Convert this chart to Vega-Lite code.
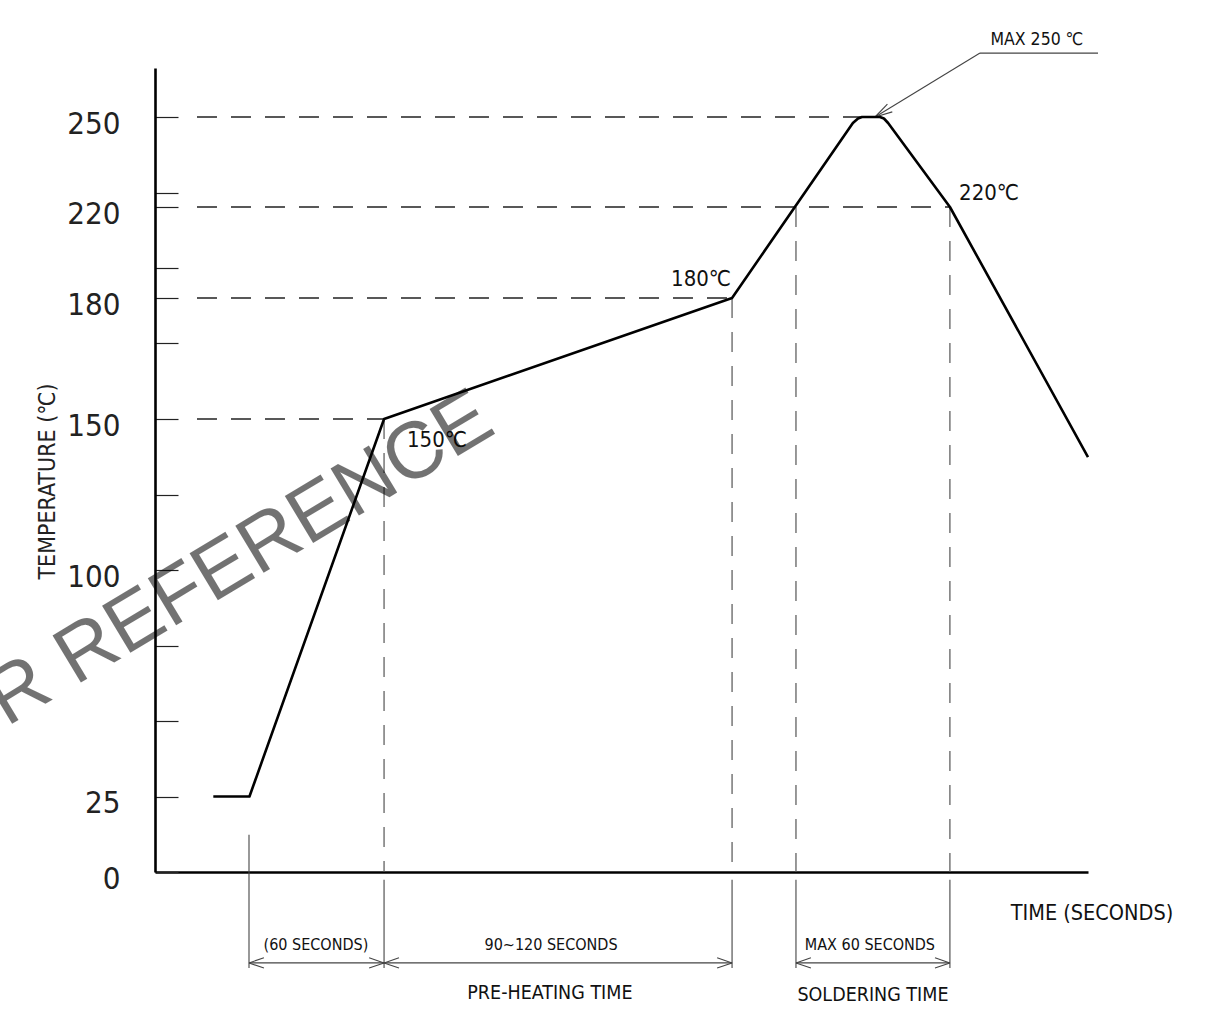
{
  "$schema": "https://vega.github.io/schema/vega-lite/v6.json",
  "width": 933,
  "height": 804,
  "autosize": "none",
  "padding": {"left": 155, "top": 68, "right": 119, "bottom": 150},
  "background": "white",
  "config": {"view": {"stroke": null}, "font": "DejaVu Sans Condensed, DejaVu Sans, sans-serif"},
  "encoding": {
    "x": {
      "field": "x",
      "type": "quantitative",
      "scale": {"domain": [0, 400], "nice": false, "zero": false},
      "axis": {"title": null, "ticks": false, "labels": false, "grid": false, "domainColor": "#000", "domainWidth": 2.6}
    },
    "y": {
      "field": "y",
      "type": "quantitative",
      "scale": {"domain": [0, 150, 180, 220, 250, 266.33], "range": [804, 351, 230, 139, 49, 0], "nice": false, "zero": false},
      "axis": {
        "title": "TEMPERATURE (℃)",
        "values": [0, 25, 50, 75, 100, 125, 150, 168.8, 180, 193.2, 220, 224.7, 250],
        "labelExpr": "indexof([0,25,100,150,180,220,250], datum.value) >= 0 ? datum.label : ''",
        "grid": false,
        "domainColor": "#000",
        "domainWidth": 2.6,
        "tickColor": "#222",
        "tickWidth": 1.2,
        "tickSize": -23,
        "labelPadding": 58,
        "labelFont": "DejaVu Sans Condensed, DejaVu Sans, sans-serif",
        "labelFontSize": 31,
        "labelColor": "#222",
        "labelBaseline": "middle",
        "labelOffset": 7,
        "labelOverlap": false,
        "labelFlush": false,
        "titleFont": "DejaVu Sans Condensed, DejaVu Sans, sans-serif",
        "titleFontSize": 23,
        "titleFontWeight": "normal",
        "titleColor": "#222",
        "titleX": -108,
        "titleY": 413,
        "titleAngle": -90,
        "titleAlign": "center",
        "titleBaseline": "middle"
      }
    }
  },
  "layer": [
    {
      "data": {"values": [
        {"x": 18, "y": 250, "x2": 303.1, "y2": 250},
        {"x": 18, "y": 220, "x2": 340.8, "y2": 220},
        {"x": 18, "y": 180, "x2": 247.4, "y2": 180},
        {"x": 18, "y": 150, "x2": 98.2, "y2": 150}
      ]},
      "mark": {"type": "rule", "stroke": "#222", "strokeWidth": 1.3, "strokeDash": [20, 14]},
      "encoding": {"x2": {"field": "x2"}, "y2": {"field": "y2"}}
    },
    {
      "data": {"values": [
        {"x": 98.2, "y": 150, "x2": 98.2, "y2": 0},
        {"x": 247.4, "y": 180, "x2": 247.4, "y2": 0},
        {"x": 274.8, "y": 220, "x2": 274.8, "y2": 0},
        {"x": 340.8, "y": 220, "x2": 340.8, "y2": 0}
      ]},
      "mark": {"type": "rule", "stroke": "#555", "strokeWidth": 1.2, "strokeDash": [20, 14]},
      "encoding": {"x2": {"field": "x2"}, "y2": {"field": "y2"}}
    },
    {
      "data": {"values": [
        {"x": 40.3, "y": 12.3, "x2": 40.3, "y2": -31.8},
        {"x": 98.2, "y": -2.6, "x2": 98.2, "y2": -31.8},
        {"x": 247.4, "y": -2.6, "x2": 247.4, "y2": -31.8},
        {"x": 274.8, "y": -2.6, "x2": 274.8, "y2": -31.8},
        {"x": 340.8, "y": -2.6, "x2": 340.8, "y2": -31.8},
        {"x": 40.3, "y": -30.1, "x2": 98.2, "y2": -30.1},
        {"x": 98.2, "y": -30.1, "x2": 247.4, "y2": -30.1},
        {"x": 274.8, "y": -30.1, "x2": 340.8, "y2": -30.1},
        {"x": 40.3, "y": -30.1, "x2": 46.7, "y2": -28.4},
        {"x": 40.3, "y": -30.1, "x2": 46.7, "y2": -31.8},
        {"x": 98.2, "y": -30.1, "x2": 91.8, "y2": -28.4},
        {"x": 98.2, "y": -30.1, "x2": 91.8, "y2": -31.8},
        {"x": 98.2, "y": -30.1, "x2": 104.6, "y2": -28.4},
        {"x": 98.2, "y": -30.1, "x2": 104.6, "y2": -31.8},
        {"x": 247.4, "y": -30.1, "x2": 241.0, "y2": -28.4},
        {"x": 247.4, "y": -30.1, "x2": 241.0, "y2": -31.8},
        {"x": 274.8, "y": -30.1, "x2": 281.2, "y2": -28.4},
        {"x": 274.8, "y": -30.1, "x2": 281.2, "y2": -31.8},
        {"x": 340.8, "y": -30.1, "x2": 334.4, "y2": -28.4},
        {"x": 340.8, "y": -30.1, "x2": 334.4, "y2": -31.8},
        {"x": 308.7, "y": 250, "x2": 353.7, "y2": 271.3},
        {"x": 353.7, "y": 271.3, "x2": 404.3, "y2": 271.3},
        {"x": 308.7, "y": 250, "x2": 316.1, "y2": 251.7},
        {"x": 308.7, "y": 250, "x2": 314.0, "y2": 254.3}
      ]},
      "mark": {"type": "rule", "stroke": "#444", "strokeWidth": 1.1},
      "encoding": {"x2": {"field": "x2"}, "y2": {"field": "y2"}}
    },
    {
      "data": {"values": [
        {"x": 25, "y": 25},
        {"x": 40.5, "y": 25},
        {"x": 98.2, "y": 150},
        {"x": 247.4, "y": 180},
        {"x": 299.2, "y": 248},
        {"x": 301.4, "y": 249.5},
        {"x": 303.1, "y": 250},
        {"x": 310.8, "y": 250},
        {"x": 312.5, "y": 249.5},
        {"x": 314.3, "y": 248},
        {"x": 340.8, "y": 220},
        {"x": 400, "y": 137.4}
      ]},
      "mark": {"type": "line", "stroke": "#000", "strokeWidth": 2.6, "strokeJoin": "round"},
      "encoding": {}
    },
    {
      "data": {"values": [
        {"label": "150℃", "x": 120.9, "y": 143},
        {"label": "180℃", "x": 234.1, "y": 188.4},
        {"label": "220℃", "x": 357.6, "y": 224.7}
      ]},
      "mark": {"type": "text", "fontSize": 22, "fill": "#111", "baseline": "middle", "align": "center"},
      "encoding": {"text": {"field": "label"}}
    },
    {
      "data": {"values": [
        {"label": "MAX 250 ℃", "x": 378.1, "y": 275.7}
      ]},
      "mark": {"type": "text", "fontSize": 17.5, "fill": "#111", "baseline": "middle", "align": "center"},
      "encoding": {"text": {"field": "label"}}
    },
    {
      "data": {"values": [
        {"label": "(60 SECONDS)", "x": 69.0, "y": -24.2},
        {"label": "90~120 SECONDS", "x": 169.8, "y": -24.2},
        {"label": "MAX 60 SECONDS", "x": 306.5, "y": -24.2}
      ]},
      "mark": {"type": "text", "fontSize": 16, "fill": "#111", "baseline": "middle", "align": "center"},
      "encoding": {"text": {"field": "label"}}
    },
    {
      "data": {"values": [
        {"label": "PRE-HEATING TIME", "x": 169.3, "y": -40.1},
        {"label": "SOLDERING TIME", "x": 307.8, "y": -40.7}
      ]},
      "mark": {"type": "text", "fontSize": 19.5, "fill": "#111", "baseline": "middle", "align": "center"},
      "encoding": {"text": {"field": "label"}}
    },
    {
      "data": {"values": [
        {"label": "TIME (SECONDS)", "x": 401.7, "y": -13.9}
      ]},
      "mark": {"type": "text", "fontSize": 21.5, "fill": "#111", "baseline": "middle", "align": "center"},
      "encoding": {"text": {"field": "label"}}
    },
    {
      "data": {"values": [
        {"label": "FOR REFERENCE", "x": 147.1, "y": 145.7}
      ]},
      "mark": {"type": "text", "font": "Liberation Sans", "fontSize": 80, "fill": "#000", "opacity": 0.55, "baseline": "alphabetic", "align": "right", "angle": -31},
      "encoding": {"text": {"field": "label"}}
    }
  ]
}
